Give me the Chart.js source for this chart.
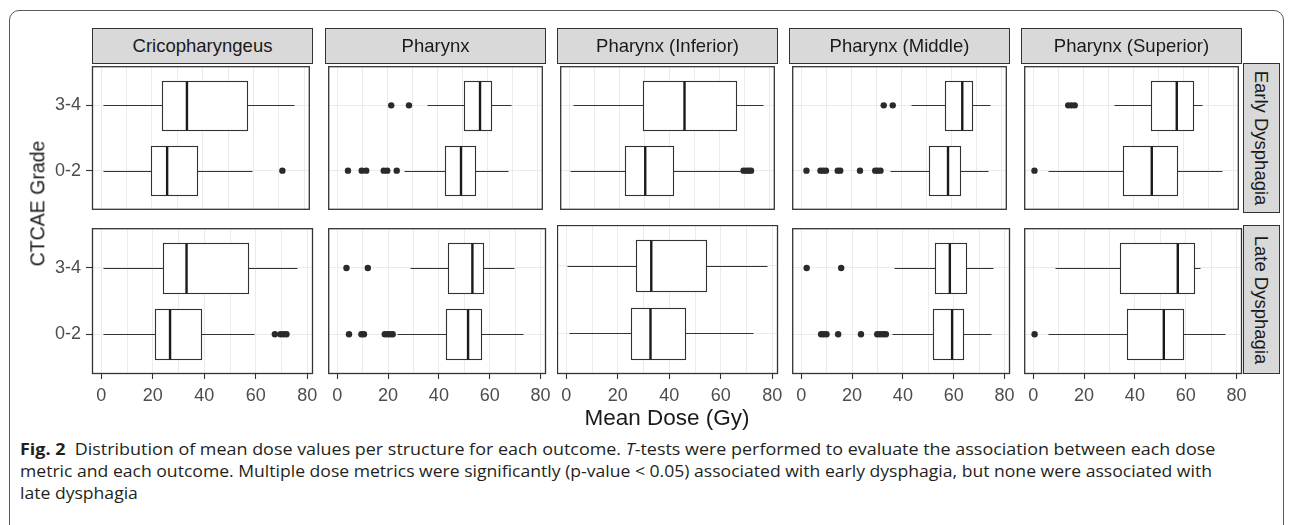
<!DOCTYPE html>
<html>
<head>
<meta charset="utf-8">
<script src="https://cdn.jsdelivr.net/npm/chart.js@4.4.1/dist/chart.umd.min.js"></script>
<style>
html,body{margin:0;padding:0;background:#fff;}
body{width:1290px;height:525px;position:relative;overflow:hidden;font-family:"Liberation Sans",Arial,sans-serif;}
.frame{position:absolute;left:9px;top:10px;width:1275px;height:560px;border:1.5px solid #5a5a5a;border-radius:10px;box-sizing:border-box;}
.strip{position:absolute;background:#D9D9D9;border:1px solid #333;box-sizing:border-box;color:#1A1A1A;font-size:18.5px;display:flex;align-items:center;justify-content:center;white-space:nowrap;}
.vstrip span{display:block;transform:rotate(90deg);white-space:nowrap;}
canvas{position:absolute;}
.title{position:absolute;color:#1A1A1A;white-space:nowrap;}
#xtitle{font-size:22.5px;}
#ytitle{font-size:19.5px;}
.cap{position:absolute;left:20px;font-family:"Open Sans","Noto Sans",sans-serif;font-size:16.5px;line-height:22px;color:#231F20;white-space:nowrap;transform-origin:0 50%;}
.cap b{font-weight:700;}
</style>
</head>
<body>
<div class="frame"></div>
<div id="root"></div>
<div class="title" id="xtitle">Mean Dose (Gy)</div>
<div class="title" id="ytitle">CTCAE Grade</div>
<div class="cap" id="cap1" style="top:438px"><b>Fig. 2</b>&nbsp;&nbsp;Distribution of mean dose values per structure for each outcome. <i>T</i>-tests were performed to evaluate the association between each dose</div>
<div class="cap" id="cap2" style="top:460px">metric and each outcome. Multiple dose metrics were significantly (p-value &lt; 0.05) associated with early dysphagia, but none were associated with</div>
<div class="cap" id="cap3" style="top:482px">late dysphagia</div>
<script>
// ---------- data ----------
const structures = ['Cricopharyngeus', 'Pharynx', 'Pharynx (Inferior)', 'Pharynx (Middle)', 'Pharynx (Superior)'];
const outcomes = ['Early Dysphagia', 'Late Dysphagia'];
const grades = ['0-2', '3-4'];
const xMajorTicks = [0, 20, 40, 60, 80];
const xGridTicks = [0, 10, 20, 30, 40, 50, 60, 70, 80];

// [lower whisker, Q1, median, Q3, upper whisker] per structure
const early34Box = [
  [0.6, 23.8, 33.8, 57.3, 76.0],
  [35.8, 50.6, 57.1, 61.6, 69.6],
  [1.5, 29.6, 46.1, 66.7, 77.5],
  [43.7, 57.5, 64.4, 68.3, 75.6],
  [32.2, 47.1, 57.4, 63.9, 67.6]
];
const early02Box = [
  [0.6, 19.8, 26.0, 37.6, 59.3],
  [26.8, 42.9, 49.5, 55.1, 68.3],
  [0.3, 22.5, 30.4, 41.6, 68.3],
  [35.6, 51.0, 58.7, 63.3, 74.7],
  [5.9, 35.8, 47.4, 57.6, 75.4]
];
const late34Box = [
  [0.6, 23.8, 33.1, 56.9, 76.0],
  [28.7, 43.5, 53.2, 57.3, 69.6],
  [0.3, 27.0, 33.0, 54.4, 77.8],
  [36.5, 52.7, 58.5, 64.7, 75.6],
  [8.4, 34.0, 56.9, 63.4, 65.7]
];
const late02Box = [
  [0.6, 20.9, 26.7, 38.9, 59.3],
  [23.5, 42.9, 51.5, 56.7, 73.2],
  [0.9, 25.0, 32.7, 46.0, 72.4],
  [35.6, 51.7, 59.4, 63.8, 74.6],
  [5.9, 36.9, 51.4, 58.9, 75.4]
];
// outliers per structure
const early34Out = [[], [21.6, 28.7], [], [33.0, 36.6], [14.0, 15.3, 16.6]];
const early02Out = [[71.4], [4.3, 9.8, 11.6, 18.6, 20.0, 23.8], [69.7, 70.8, 71.8, 72.7], [2.1, 7.7, 8.8, 9.9, 14.6, 15.6, 23.5, 29.6, 30.6, 31.7], [0.5]];
const late34Out = [[], [3.6, 12.0], [], [2.1, 15.7], []];
const late02Out = [[67.4, 69.6, 70.8, 71.9], [4.6, 9.5, 10.5, 18.7, 19.8, 20.8, 21.8], [], [7.8, 8.8, 9.9, 14.5, 23.5, 29.9, 31.0, 32.2, 33.3], [0.5]];

// ---------- layout ----------
const colLeft = [92, 325, 557, 789, 1021];
const panelW = 221;
const rowTop = [63, 225];
const rowH = [150, 149];
const stripTop = 28;
const xRange = [-3.6, 82.2];
const yRange = [0.4, 2.6];
const boxHalf = 0.375;

const boxSets = [[early02Box, early34Box], [late02Box, late34Box]];
const outSets = [[early02Out, early34Out], [late02Out, late34Out]];

const FONT = '"Liberation Sans", Arial, sans-serif';
const INK = '#333333';

const boxPlugin = {
  id: 'boxplot',
  beforeDatasetsDraw(chart, args, opts) {
    const {ctx} = chart;
    const x = chart.scales.x, y = chart.scales.y;
    ctx.save();
    ctx.strokeStyle = INK;
    opts.groups.forEach(g => {
      const [lo, q1, med, q3, hi] = g.stats;
      const yc = Math.round(y.getPixelForValue(g.y)) + 0.5;
      const yt = Math.round(y.getPixelForValue(g.y + boxHalf)) + 0.5;
      const yb = Math.round(y.getPixelForValue(g.y - boxHalf)) + 0.5;
      const px = v => Math.round(x.getPixelForValue(v)) + 0.5;
      ctx.lineWidth = 1.1;
      ctx.beginPath();
      ctx.moveTo(px(lo), yc); ctx.lineTo(px(q1), yc);
      ctx.moveTo(px(q3), yc); ctx.lineTo(px(hi), yc);
      ctx.stroke();
      ctx.fillStyle = '#ffffff';
      ctx.fillRect(px(q1), yt, px(q3) - px(q1), yb - yt);
      ctx.strokeRect(px(q1), yt, px(q3) - px(q1), yb - yt);
      ctx.lineWidth = 2.4;
      ctx.strokeStyle = '#1A1A1A';
      ctx.beginPath();
      ctx.moveTo(x.getPixelForValue(med), yt); ctx.lineTo(x.getPixelForValue(med), yb);
      ctx.stroke();
      ctx.strokeStyle = INK;
    });
    ctx.restore();
  },
  afterDraw(chart) {
    const {ctx, chartArea: a} = chart;
    ctx.save();
    ctx.strokeStyle = INK;
    ctx.lineWidth = 1.3;
    ctx.strokeRect(a.left + 0.5, a.top + 0.5, a.right - a.left - 1, a.bottom - a.top - 1);
    ctx.restore();
  }
};

const root = document.getElementById('root');

function makePanel(r, c) {
  const isLeft = c === 0, isBottom = r === 1;
  const extraL = isLeft ? 92 : 0;
  const extraR = isBottom ? 16 : 0;
  const extraB = isBottom ? 38 : 0;
  const w = panelW + extraL + extraR, h = rowH[r] + extraB;
  const cv = document.createElement('canvas');
  cv.width = w; cv.height = h;
  cv.style.left = (colLeft[c] - extraL) + 'px';
  cv.style.top = rowTop[r] + 'px';
  cv.style.width = w + 'px'; cv.style.height = h + 'px';
  root.appendChild(cv);

  const groups = [0, 1].map(g => ({y: g + 1, stats: boxSets[r][g][c]}));
  const pts = [];
  [0, 1].forEach(g => outSets[r][g][c].forEach(v => pts.push({x: v, y: g + 1})));

  new Chart(cv, {
    type: 'scatter',
    data: {datasets: [{data: pts, pointRadius: 3.2, pointBackgroundColor: '#2a2a2a', pointBorderWidth: 0, pointHoverRadius: 3.2}]},
    plugins: [boxPlugin],
    options: {
      responsive: false, animation: false, devicePixelRatio: 1, events: [],
      layout: {padding: {left: 0, right: extraR, top: 0, bottom: 0}},
      plugins: {legend: {display: false}, tooltip: {enabled: false}, boxplot: {groups}},
      scales: {
        x: {
          type: 'linear', min: xRange[0], max: xRange[1],
          afterBuildTicks: s => { s.ticks = xGridTicks.map(v => ({value: v})); },
          afterFit: s => { s.height = isBottom ? 38 : 0; s.paddingLeft = 0; s.paddingRight = 0; },
          border: {display: false},
          grid: {color: '#EBEBEB', lineWidth: 1, drawTicks: isBottom, tickLength: 5, tickWidth: 1.1,
                 tickColor: ctx => xMajorTicks.includes(ctx.tick && ctx.tick.value) ? INK : 'rgba(0,0,0,0)'},
          ticks: {display: isBottom, autoSkip: false, maxRotation: 0, padding: 6, color: '#4D4D4D',
                  font: {size: 18, family: FONT},
                  callback: v => xMajorTicks.includes(v) ? String(v) : ''}
        },
        y: {
          type: 'linear', min: yRange[0], max: yRange[1],
          afterBuildTicks: s => { s.ticks = [1, 2].map(v => ({value: v})); },
          afterFit: s => { s.width = isLeft ? 92 : 0; s.paddingTop = 0; s.paddingBottom = 0; },
          border: {display: false},
          grid: {color: '#EBEBEB', lineWidth: 1, drawTicks: isLeft, tickLength: 6, tickWidth: 1.1, tickColor: INK},
          ticks: {display: isLeft, padding: 5, color: '#4D4D4D', font: {size: 18, family: FONT},
                  callback: v => grades[v - 1]}
        }
      }
    }
  });
}

for (let r = 0; r < 2; r++) for (let c = 0; c < 5; c++) makePanel(r, c);

// strips
structures.forEach((s, c) => {
  const d = document.createElement('div');
  d.className = 'strip';
  d.style.left = colLeft[c] + 'px'; d.style.top = stripTop + 'px';
  d.style.width = panelW + 'px'; d.style.height = (rowTop[0] - stripTop + 1) + 'px';
  d.textContent = s;
  root.appendChild(d);
});
outcomes.forEach((o, r) => {
  const d = document.createElement('div');
  d.className = 'strip vstrip';
  d.style.left = (colLeft[4] + panelW + 1) + 'px'; d.style.top = rowTop[r] + 'px';
  d.style.width = '37px'; d.style.height = rowH[r] + 'px';
  const sp = document.createElement('span'); sp.textContent = o; d.appendChild(sp);
  root.appendChild(d);
});

// axis titles
const xt = document.getElementById('xtitle');
xt.style.left = (((colLeft[0] + colLeft[4] + panelW) / 2) - xt.offsetWidth / 2) + 'px';
xt.style.top = (418 - xt.offsetHeight / 2) + 'px';
const yt = document.getElementById('ytitle');
yt.style.left = (38 - yt.offsetWidth / 2) + 'px';
yt.style.top = (203 - yt.offsetHeight / 2) + 'px';
yt.style.transform = 'rotate(-90deg)';

// caption fit
const c1 = document.getElementById('cap1'), c2 = document.getElementById('cap2'), c3 = document.getElementById('cap3');
const s1 = 1195 / c1.scrollWidth, s2 = 1192 / c2.scrollWidth;
c1.style.transform = 'scaleX(' + s1 + ')';
c2.style.transform = 'scaleX(' + s2 + ')';
c3.style.transform = 'scaleX(' + s2 + ')';
</script>
</body>
</html>
